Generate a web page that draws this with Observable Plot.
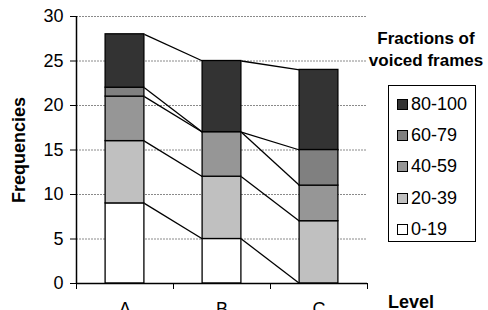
<!DOCTYPE html>
<html>
<head>
<meta charset="utf-8">
<script src="https://cdn.jsdelivr.net/npm/d3@7"></script>
<script src="https://cdn.jsdelivr.net/npm/@observablehq/plot@0.6"></script>
<style>
  html, body { margin: 0; padding: 0; background: #fff; }
  #chart { position: relative; width: 488px; height: 310px; overflow: hidden; font-family: "Liberation Sans", Arial, sans-serif; }
  #chart svg { position: absolute; left: 0; top: 0; }
  .lbl { position: absolute; font-weight: bold; color: #000; white-space: nowrap; }
  #legend { position: absolute; left: 388px; top: 85px; width: 86px; height: 155px; border: 1.3px solid #000; background: #fff; }
  .item { position: absolute; left: 8px; width: 76px; font-size: 18px; line-height: 20px; height: 20px; white-space: nowrap; }
  .sw { position: absolute; left: 0; top: 5px; width: 9px; height: 9px; border: 1px solid #000; }
  .item span.t { position: absolute; left: 14px; top: 0; white-space: nowrap; }
</style>
</head>
<body>
<div id="chart"></div>
<script>
const levels = ["A", "B", "C"];
const ranges = ["0-19", "20-39", "40-59", "60-79", "80-100"];
const colors = ["#ffffff", "#c0c0c0", "#969696", "#808080", "#333333"];
// frequencies per range, for each level A, B, C
const v0_19   = [9, 5, 0];
const v20_39  = [7, 7, 7];
const v40_59  = [5, 5, 4];
const v60_79  = [1, 0, 4];
const v80_100 = [6, 8, 9];
const yTicks = [0, 5, 10, 15, 20, 25, 30];

const series = [v0_19, v20_39, v40_59, v60_79, v80_100];

// build stacked rows
const rows = [];
levels.forEach((lv, i) => {
  let acc = 0;
  series.forEach((s, r) => {
    rows.push({level: lv, i, range: ranges[r], y1: acc, y2: acc + s[i]});
    acc += s[i];
  });
});
// connector lines between adjacent bars at each cumulative top
const links = [];
for (let i = 0; i < levels.length - 1; i++) {
  ranges.forEach(r => {
    const a = rows.find(d => d.i === i && d.range === r);
    const b = rows.find(d => d.i === i + 1 && d.range === r);
    links.push({i, ya: a.y2, yb: b.y2});
  });
}
const barHalf = 0.2;

const plot = Plot.plot({
  width: 488,
  height: 310,
  marginLeft: 76,
  marginRight: 121,
  marginTop: 16,
  marginBottom: 27,
  style: {fontFamily: "Liberation Sans, Arial, sans-serif", fontSize: "18px", background: "transparent", overflow: "visible"},
  x: {domain: [0, levels.length], ticks: d3.range(levels.length + 1), tickFormat: () => "", tickSize: 6, label: null},
  y: {domain: [0, 30], ticks: yTicks, tickSize: 6, tickPadding: 7, label: null},
  color: {domain: ranges, range: colors},
  marks: [
    Plot.ruleY(yTicks.filter(t => t > 0), {stroke: "#8a8a8a", strokeWidth: 1, strokeDasharray: "2,1"}),
    Plot.link(links, {x1: d => d.i + 0.5 + barHalf, y1: "ya", x2: d => d.i + 1.5 - barHalf, y2: "yb", stroke: "#000", strokeWidth: 1.3}),
    Plot.rect(rows, {x1: d => d.i + 0.5 - barHalf, x2: d => d.i + 0.5 + barHalf, y1: "y1", y2: "y2", fill: "range", stroke: "#000", strokeWidth: 1.3}),
    Plot.ruleX([0], {stroke: "#000", strokeWidth: 1.5}),
    Plot.ruleY([0], {stroke: "#000", strokeWidth: 1.5}),
    Plot.text(levels, {x: (d, i) => i + 0.5, y: () => 0, text: d => d, dy: 26, fontSize: 18, fill: "#000"})
  ]
});

const chart = document.getElementById("chart");
chart.appendChild(plot);

// axis labels and legend
const ylab = document.createElement("div");
ylab.className = "lbl";
ylab.textContent = "Frequencies";
ylab.style.cssText = "font-size:18px; left:19px; top:150px; transform: translate(-50%,-50%) rotate(-90deg);";
chart.appendChild(ylab);

const xlab = document.createElement("div");
xlab.className = "lbl";
xlab.textContent = "Level";
xlab.style.cssText = "font-size:18px; left:388px; top:292px;";
chart.appendChild(xlab);

const ltitle = document.createElement("div");
ltitle.className = "lbl";
ltitle.innerHTML = "Fractions of<br>voiced frames";
ltitle.style.cssText = "font-size:17px; line-height:22px; left:326px; width:200px; text-align:center; top:28px;";
chart.appendChild(ltitle);

const legend = document.createElement("div");
legend.id = "legend";
ranges.slice().reverse().forEach((r, k) => {
  const idx = ranges.indexOf(r);
  const it = document.createElement("div");
  it.className = "item";
  it.style.top = (8 + k * 31.2) + "px";
  it.innerHTML = `<div class="sw" style="background:${colors[idx]}"></div><span class="t">${r}</span>`;
  legend.appendChild(it);
});
chart.appendChild(legend);
</script>
</body>
</html>
